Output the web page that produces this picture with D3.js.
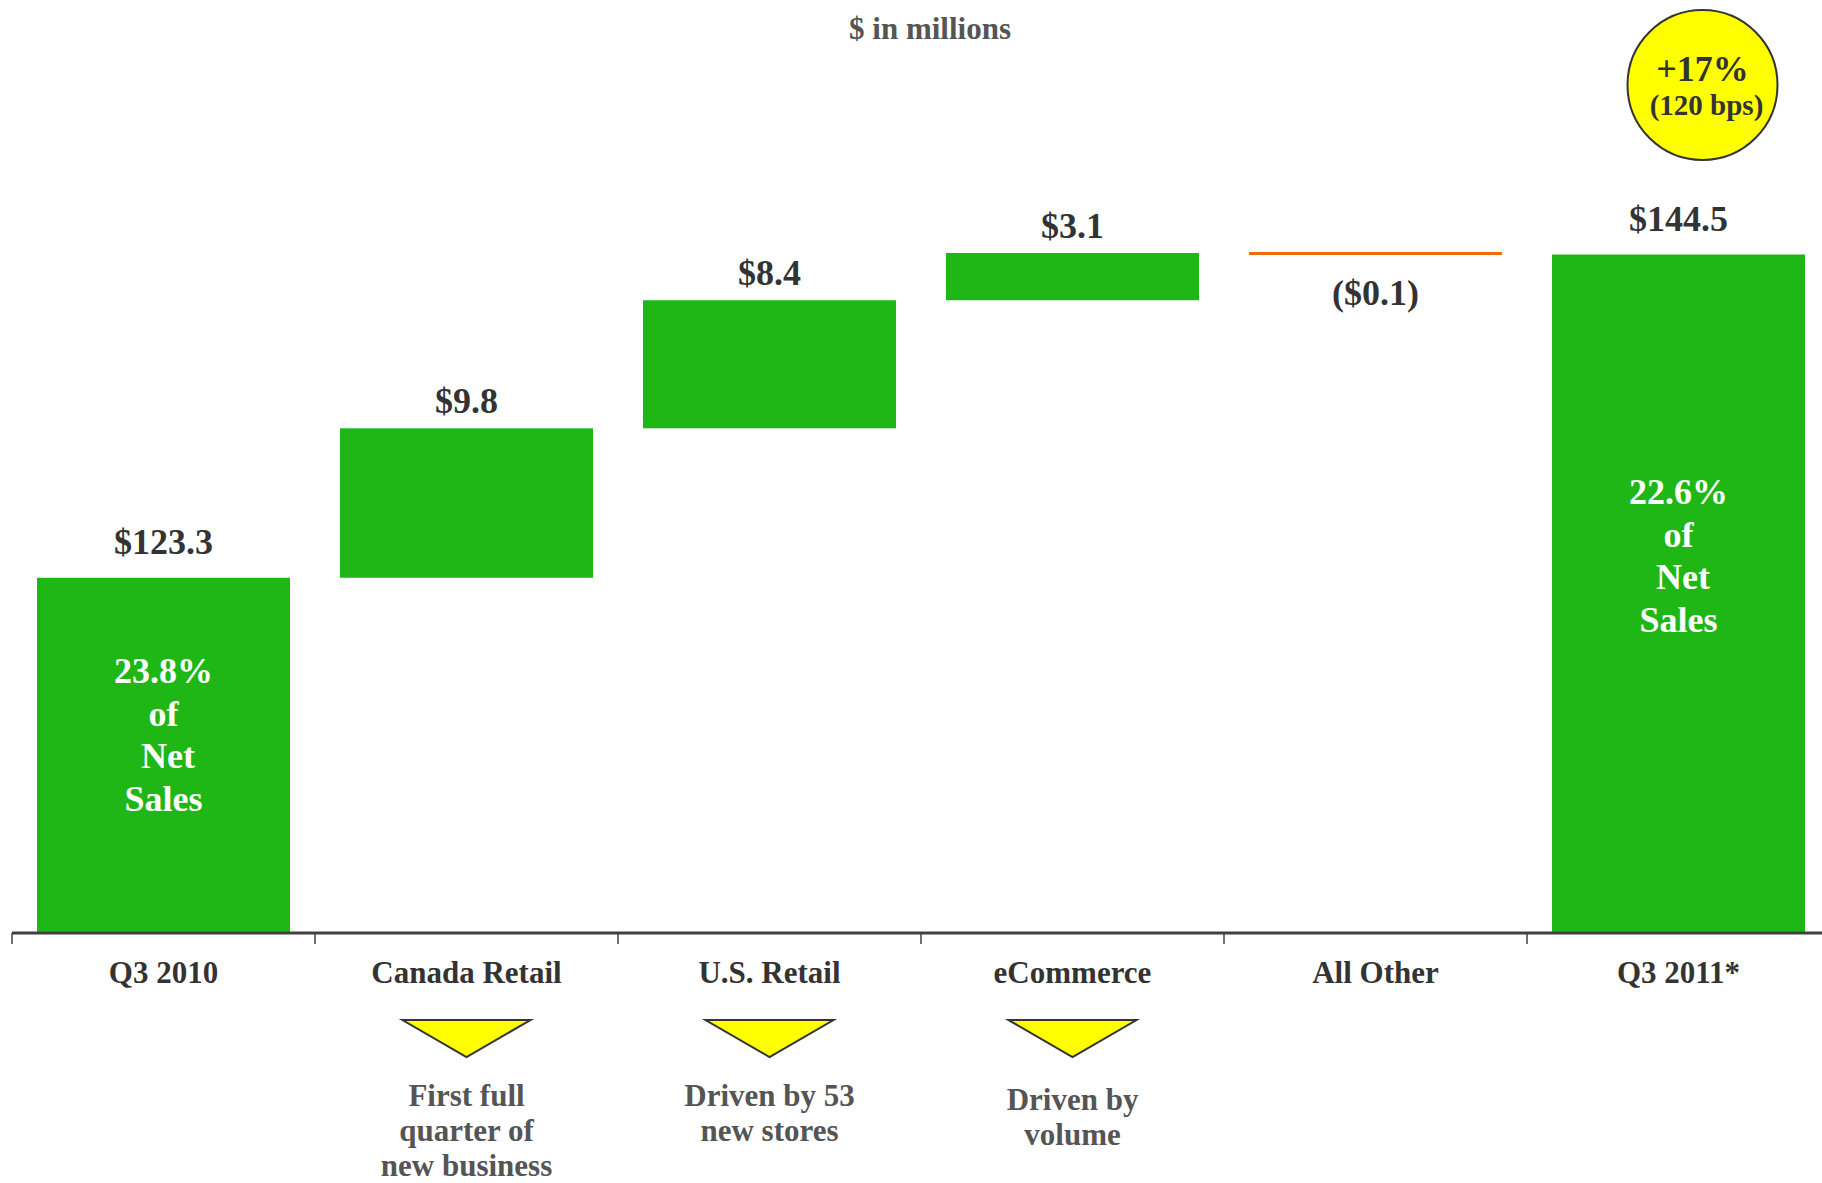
<!DOCTYPE html>
<html>
<head>
<meta charset="utf-8">
<script src="https://cdn.jsdelivr.net/npm/d3@7"></script>
<style>
  body { margin: 0; background: #fff; }
  svg text { font-family: "Liberation Serif", "Times New Roman", serif; font-weight: bold; }
</style>
</head>
<body>
<div id="chart"></div>
<script>
// Waterfall: Q3 2010 -> Q3 2011 ($ in millions)
const categories = ["Q3 2010", "Canada Retail", "U.S. Retail", "eCommerce", "All Other", "Q3 2011*"];
const values = [123.3, 9.8, 8.4, 3.1, -0.1, 144.5];
const kinds = ["total", "delta", "delta", "delta", "delta", "total"];
const valueLabels = ["$123.3", "$9.8", "$8.4", "$3.1", "($0.1)", "$144.5"];
const barNotes = [["23.8%", "of", " Net", "Sales"], null, null, null, null, ["22.6%", "of", " Net", "Sales"]];
const driverNotes = [null, ["First full", "quarter of", "new business"], ["Driven by 53", "new stores"], ["Driven by", "volume"], null, null];
const baseValue = 100;
const growthBadge = ["+17%", "(120 bps)"];

const W = 1822, H = 1183;
const green = "#1fb716", orange = "#f26a0a", dark = "#333333", grey = "#555555";

const svg = d3.select("#chart").append("svg")
    .attr("width", W)
    .attr("height", H);

const x = d3.scaleBand().domain(categories).range([12, 1830]).paddingInner(0.165).paddingOuter(0.0825);
const y = d3.scaleLinear().domain([baseValue, 144.5]).range([933, 254.5]);

// running totals
let run = baseValue;
const steps = categories.map((c, i) => {
    let start, end;
    if (kinds[i] === "total") { start = baseValue; end = values[i]; run = values[i]; }
    else { start = run; end = run + values[i]; run = end; }
    return {cat: c, start, end, v: values[i], kind: kinds[i], label: valueLabels[i], note: barNotes[i], driver: driverNotes[i]};
});

const cx = d => x(d.cat) + x.bandwidth() / 2;

// title
svg.append("text").attr("x", 930).attr("y", 39).attr("text-anchor", "middle")
    .style("font-size", "31px").style("fill", grey).text("$ in millions");

// bars
svg.selectAll("rect.bar").data(steps).enter().append("rect")
    .attr("class", "bar")
    .attr("x", d => x(d.cat))
    .attr("width", x.bandwidth())
    .attr("y", d => y(Math.max(d.start, d.end)) - (d.v < 0 ? 1 : 0))
    .attr("height", d => Math.max(3, Math.abs(y(d.start) - y(d.end))))
    .attr("fill", d => d.v < 0 ? orange : green);

// value labels
svg.selectAll("text.val").data(steps).enter().append("text")
    .attr("class", "val")
    .attr("x", cx)
    .attr("y", d => {
        if (d.v < 0) return y(d.start) + 52;
        return y(d.end) - (d.kind === "total" ? 24 : 15);
    })
    .attr("text-anchor", "middle")
    .style("font-size", "36px").style("fill", dark)
    .text(d => d.label);

// text inside total bars
steps.filter(d => d.note).forEach(d => {
    const top = y(d.end), h = y(d.start) - y(d.end);
    const first = top + 0.446 * h - 53;
    const t = svg.append("text").attr("text-anchor", "middle")
        .style("font-size", "36px").style("fill", "#fff").style("white-space", "pre");
    d.note.forEach((line, j) => {
        t.append("tspan").attr("x", cx(d)).attr("y", first + j * 42.5).text(line);
    });
});

// axis
const axisY = y(baseValue);
svg.append("line").attr("x1", 12).attr("x2", W).attr("y1", axisY).attr("y2", axisY)
    .attr("stroke", "#404040").attr("stroke-width", 3);
const tickXs = categories.map(c => x(c) - (x.step() - x.bandwidth()) / 2);
svg.selectAll("line.tick").data(tickXs).enter().append("line")
    .attr("class", "tick")
    .attr("x1", d => d).attr("x2", d => d)
    .attr("y1", axisY).attr("y2", axisY + 11)
    .attr("stroke", "#404040").attr("stroke-width", 1.5);

svg.selectAll("text.cat").data(steps).enter().append("text")
    .attr("class", "cat")
    .attr("x", cx).attr("y", axisY + 50)
    .attr("text-anchor", "middle")
    .style("font-size", "31px").style("fill", dark)
    .text(d => d.cat);

// driver callouts
steps.filter(d => d.driver).forEach(d => {
    const c = cx(d);
    svg.append("path")
        .attr("d", `M${c - 64},1020 L${c + 64},1020 L${c},1057 Z`)
        .attr("fill", "#ffff00").attr("stroke", "#333").attr("stroke-width", 2);
    const t = svg.append("text").attr("text-anchor", "middle")
        .style("font-size", "31px").style("fill", grey);
    const top = d.cat === "eCommerce" ? 1110 : 1106;
    d.driver.forEach((line, j) => {
        t.append("tspan").attr("x", c).attr("y", top + j * 35).text(line);
    });
});

// growth badge
const last = steps[steps.length - 1];
const bx = cx(last) + 24, by = 85;
svg.append("circle").attr("cx", bx).attr("cy", by).attr("r", 75)
    .attr("fill", "#ffff00").attr("stroke", "#333").attr("stroke-width", 2);
svg.append("text").attr("x", bx).attr("y", by - 4).attr("text-anchor", "middle")
    .style("font-size", "36px").style("fill", dark).text(growthBadge[0]);
svg.append("text").attr("x", bx + 4).attr("y", by + 30).attr("text-anchor", "middle")
    .style("font-size", "29px").style("fill", dark).text(growthBadge[1]);
</script>
</body>
</html>
